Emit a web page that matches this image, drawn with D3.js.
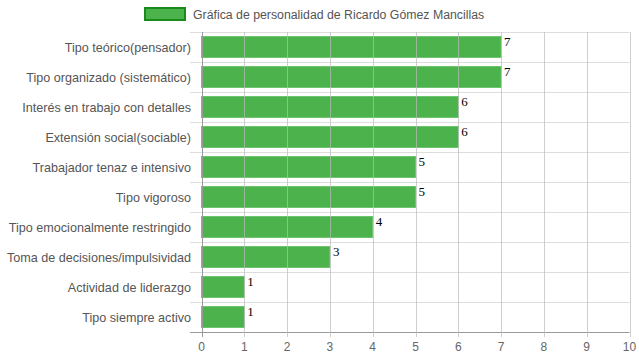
<!DOCTYPE html>
<html><head><meta charset="utf-8">
<script src="https://cdn.jsdelivr.net/npm/d3@7"></script>
<style>body{margin:0;background:#fff}svg{display:block}</style>
</head><body>
<script>
const categories = ["Tipo teórico(pensador)","Tipo organizado (sistemático)","Interés en trabajo con detalles","Extensión social(sociable)","Trabajador tenaz e intensivo","Tipo vigoroso","Tipo emocionalmente restringido","Toma de decisiones/impulsividad","Actividad de liderazgo","Tipo siempre activo"];
const values = [7,7,6,6,5,5,4,3,1,1];
const xTicks = [0,1,2,3,4,5,6,7,8,9,10];
const seriesName = "Gráfica de personalidad de Ricardo Gómez Mancillas";

const W=639,H=360;
const svg=d3.select("body").append("svg").attr("width",W).attr("height",H);
const font="'Liberation Sans', Arial, sans-serif";
const x=d3.scaleLinear().domain([0,10]).range([201.5,629.5]);
const y=d3.scaleBand().domain(categories).range([32,332]).paddingInner(0.3).paddingOuter(0.15);
const yb=d3.scaleBand().domain(categories).range([32,332]);

// horizontal gridlines
svg.append("g").selectAll("line").data(categories.concat(["_end"])).join("line")
  .attr("x1",190).attr("x2",629.5)
  .attr("y1",(d,i)=>Math.round(32+i*yb.step())+0.5).attr("y2",(d,i)=>Math.round(32+i*yb.step())+0.5)
  .attr("stroke",(d,i)=>i===categories.length?"#999":"#ddd");

// bars
svg.append("g").selectAll("rect").data(values).join("rect")
  .attr("x",x(0)).attr("y",(d,i)=>y(categories[i]))
  .attr("width",d=>x(d)-x(0)).attr("height",y.bandwidth())
  .attr("fill","#4cb34c").attr("stroke","#6cc46c").attr("stroke-width",1);

// vertical gridlines (over bars)
svg.append("g").selectAll("line").data(xTicks).join("line")
  .attr("x1",d=>Math.round(x(d))+0.5).attr("x2",d=>Math.round(x(d))+0.5)
  .attr("y1",32).attr("y2",337)
  .attr("stroke",d=>d===0?"#999":"#bbb").attr("stroke-opacity",d=>d===0?1:0.7);

// x tick labels
svg.append("g").selectAll("text").data(xTicks).join("text")
  .attr("x",d=>x(d)).attr("y",351).attr("text-anchor","middle")
  .attr("font-family",font).attr("font-size",12).attr("fill","#666").text(d=>d);

// category labels
svg.append("g").selectAll("text").data(categories).join("text")
  .attr("x",191).attr("y",d=>yb(d)+yb.step()/2+4.5).attr("text-anchor","end")
  .attr("font-family",font).attr("font-size",12.6).attr("fill","#555").text(d=>d);

// value labels
svg.append("g").selectAll("text").data(values).join("text")
  .attr("x",d=>x(d)+3).attr("y",(d,i)=>y(categories[i])+9.5)
  .attr("font-family","'Liberation Serif','Times New Roman',serif").attr("font-size",13).attr("fill","#000").text(d=>d);

// legend
svg.append("rect").attr("x",145).attr("y",8).attr("width",40).attr("height",12)
  .attr("fill","#4cb34c").attr("stroke","#1a8a1a").attr("stroke-width",2);
svg.append("text").attr("x",193).attr("y",18.5).attr("font-family",font).attr("font-size",12.3)
  .attr("fill","#555").text(seriesName);
</script>
</body></html>
